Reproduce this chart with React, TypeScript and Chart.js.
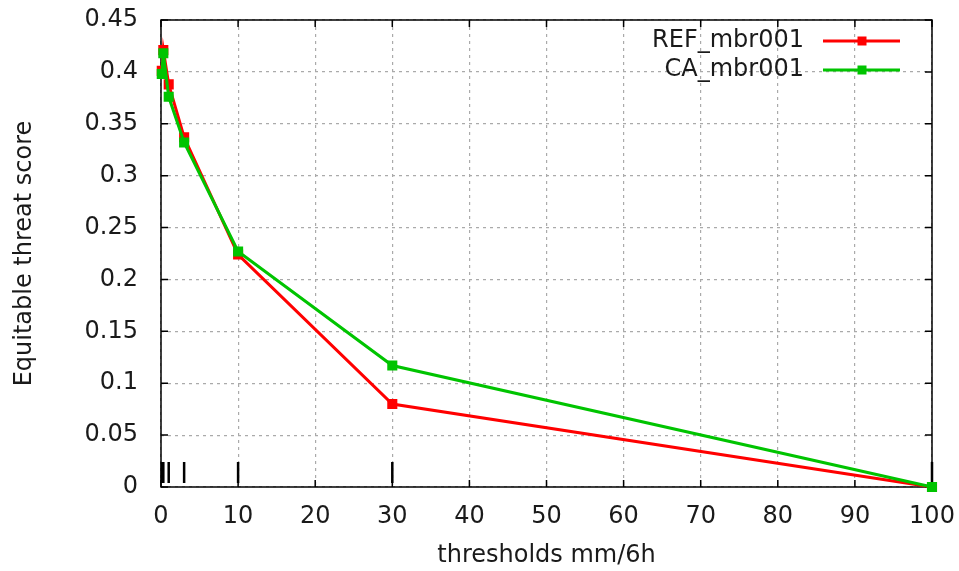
import React, { useEffect, useRef } from "react";
import { Chart, registerables } from "chart.js";

Chart.register(...registerables);

const thresholds = [0.1, 0.3, 1, 3, 10, 30, 100];
const refScores = [0.401, 0.421, 0.388, 0.337, 0.224, 0.08, 0.0];
const caScores = [0.398, 0.418, 0.376, 0.332, 0.227, 0.117, 0.0];
const seriesNames = ["REF_mbr001", "CA_mbr001"];
const seriesColors = ["#ff0000", "#00c400"];
const xTitle = "thresholds mm/6h";
const yTitle = "Equitable threat score";

const FONT = "'DejaVu Sans', sans-serif";
const FS = 24;
const TEXT = "#1a1a1a";

const framePlugin = {
  id: "frame",
  beforeDatasetsDraw(chart: any) {
    const { ctx, chartArea: a, scales } = chart;
    const xs = scales.x;
    const ys = scales.y;
    ctx.save();
    ctx.strokeStyle = "#000";
    ctx.lineWidth = 1.5;
    const tl = 7;
    ctx.beginPath();
    xs.ticks.forEach((t: any) => {
      const px = xs.getPixelForValue(t.value);
      ctx.moveTo(px, a.bottom);
      ctx.lineTo(px, a.bottom - tl);
      ctx.moveTo(px, a.top);
      ctx.lineTo(px, a.top + tl);
    });
    ys.ticks.forEach((t: any) => {
      const py = ys.getPixelForValue(t.value);
      ctx.moveTo(a.left, py);
      ctx.lineTo(a.left + tl, py);
      ctx.moveTo(a.right, py);
      ctx.lineTo(a.right - tl, py);
    });
    ctx.stroke();
    // threshold marks
    ctx.lineWidth = 2.5;
    ctx.beginPath();
    thresholds.forEach((t) => {
      const px = xs.getPixelForValue(t);
      ctx.moveTo(px, a.bottom - 4);
      ctx.lineTo(px, a.bottom - 25);
    });
    ctx.stroke();
    // box
    ctx.lineWidth = 1.5;
    ctx.strokeRect(a.left, a.top, a.right - a.left, a.bottom - a.top);
    ctx.restore();
  },
  afterDatasetsDraw(chart: any) {
    const { ctx, chartArea: a } = chart;
    ctx.save();
    ctx.font = `${FS}px ${FONT}`;
    ctx.textAlign = "right";
    ctx.textBaseline = "middle";
    seriesNames.forEach((name, i) => {
      const y = a.top + 21 + i * 29;
      ctx.fillStyle = TEXT;
      ctx.fillText(name, 804, y);
      ctx.strokeStyle = seriesColors[i];
      ctx.lineWidth = 3;
      ctx.beginPath();
      ctx.moveTo(823, y);
      ctx.lineTo(900, y);
      ctx.stroke();
      ctx.fillStyle = seriesColors[i];
      ctx.fillRect(862 - 4.5, y - 4.5, 9, 9);
    });
    ctx.restore();
  },
};

const zeroPad = (s: any) => {
  s.paddingTop = 0;
  s.paddingBottom = 0;
  s.paddingLeft = 0;
  s.paddingRight = 0;
};

export default function App() {
  const ref = useRef<HTMLCanvasElement | null>(null);
  useEffect(() => {
    document.body.style.margin = "0";
    const canvas = ref.current!;
    const chart = new Chart(canvas, {
      type: "line",
      data: {
        datasets: [
          {
            label: seriesNames[0],
            data: thresholds.map((t, i) => ({ x: t, y: refScores[i] })),
            borderColor: seriesColors[0],
            backgroundColor: seriesColors[0],
            borderWidth: 3,
            pointRadius: 5,
            pointStyle: "rect",
            order: 1,
            clip: false,
          },
          {
            label: seriesNames[1],
            data: thresholds.map((t, i) => ({ x: t, y: caScores[i] })),
            borderColor: seriesColors[1],
            backgroundColor: seriesColors[1],
            borderWidth: 3,
            pointRadius: 5,
            pointStyle: "rect",
            order: 0,
            clip: false,
          },
        ],
      },
      options: {
        animation: false,
        responsive: false,
        maintainAspectRatio: false,
        layout: { padding: { top: 20, right: 27, left: 0, bottom: 0 } },
        plugins: { legend: { display: false }, tooltip: { enabled: false } },
        scales: {
          x: {
            type: "linear",
            min: 0,
            max: 100,
            ticks: {
              stepSize: 10,
              font: { family: FONT, size: FS },
              color: TEXT,
              padding: 15,
              maxRotation: 0,
            },
            grid: { color: "#aaaaaa", lineWidth: 1.2, drawTicks: false },
            border: { display: false, dash: [3, 4] },
            title: {
              display: true,
              text: xTitle,
              font: { family: FONT, size: FS },
              color: TEXT,
              padding: { top: 0, bottom: 1 },
            },
            afterFit: (s: any) => {
              s.height = 84;
              zeroPad(s);
            },
          },
          y: {
            type: "linear",
            min: 0,
            max: 0.45,
            ticks: {
              stepSize: 0.05,
              font: { family: FONT, size: FS },
              color: TEXT,
              padding: 23,
              callback: (v: any) => String(Number(Number(v).toFixed(2))),
            },
            grid: { color: "#aaaaaa", lineWidth: 1.2, drawTicks: false },
            border: { display: false, dash: [3, 4] },
            title: {
              display: true,
              text: yTitle,
              font: { family: FONT, size: FS },
              color: TEXT,
              padding: { top: 10, bottom: 0 },
            },
            afterFit: (s: any) => {
              s.width = 161;
              zeroPad(s);
            },
          },
        },
      },
      plugins: [framePlugin],
    });
    return () => chart.destroy();
  }, []);
  return <canvas ref={ref} width={959} height={571} style={{ display: "block" }} />;
}
